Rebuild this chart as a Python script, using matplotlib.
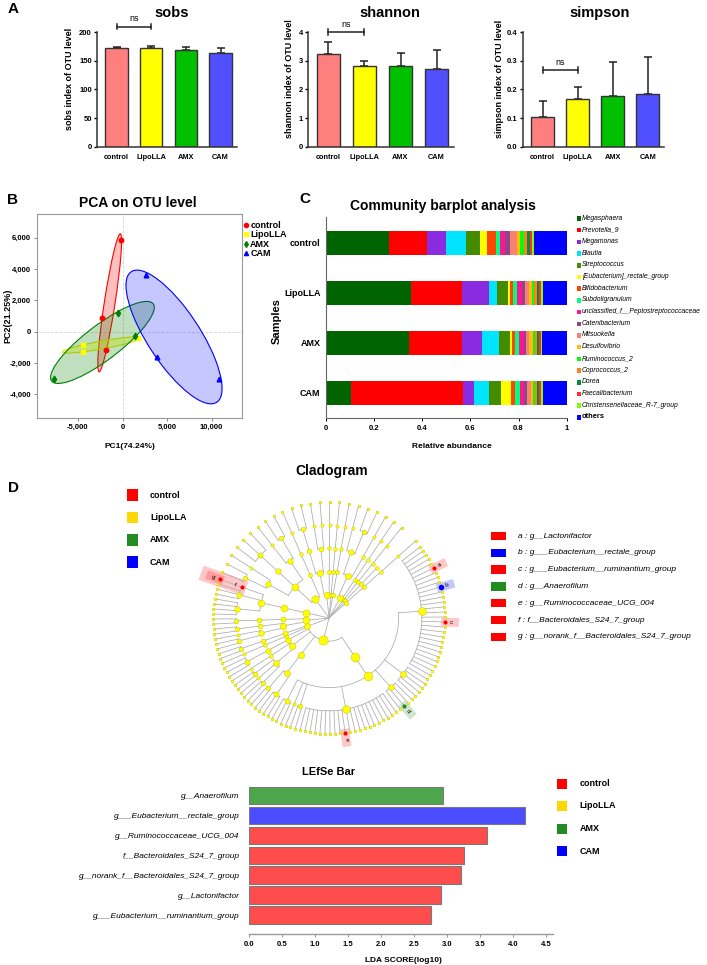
import numpy as np
import matplotlib.pyplot as plt
from matplotlib.patches import Ellipse, Rectangle, Polygon
from matplotlib.lines import Line2D
from matplotlib.colors import to_rgba

plt.rcParams['font.family'] = ['Liberation Sans', 'DejaVu Sans']

# ---------------- data ----------------
groups = ['control', 'LipoLLA', 'AMX', 'CAM']
bar_colors = ['#FF7F7F', '#FFFF00', '#00C000', '#5050FF']
group_colors = ['#FF0000', '#FFD700', '#228B22', '#0000FF']

sobs_mean = [172, 173, 169, 164]
sobs_sd = [3, 3.5, 6, 9]
shannon_mean = [3.23, 2.83, 2.81, 2.73]
shannon_sd = [0.43, 0.15, 0.47, 0.66]
simpson_mean = [0.105, 0.167, 0.177, 0.183]
simpson_sd = [0.055, 0.04, 0.12, 0.13]

# PCA scores (PC1, PC2)
control_pc1 = [-200, -2270, -1850]
control_pc2 = [5840, 850, -1165]
lipo_pc1 = [-4440, -4440, 1780]
lipo_pc2 = [-850, -1270, -430]
amx_pc1 = [-505, 1400, -7660]
amx_pc2 = [1210, -255, -3010]
cam_pc1 = [2610, 3910, 10840]
cam_pc2 = [3610, -1590, -3030]

genus_names = ['Megasphaera', 'Prevotella_9', 'Megamonas', 'Blautia', 'Streptococcus',
               '[Eubacterium]_rectale_group', 'Bifidobacterium', 'Subdoligranulum',
               'unclassified_f__Peptostreptococcaceae', 'Catenibacterium', 'Mitsuokella',
               'Desulfovibrio', 'Ruminococcus_2', 'Coprococcus_2', 'Dorea', 'Faecalibacterium',
               'Christensenellaceae_R-7_group', 'others']
genus_colors = ['#006400', '#FF0000', '#8A2BE2', '#00E5FF', '#458B00', '#FFFF00', '#FF4500',
                '#00FF7F', '#FF1493', '#8B4789', '#FA8072', '#FFB90F', '#00FF00', '#FF7F24',
                '#008B45', '#FF3030', '#7FFF00', '#0000FF']
abund_control = [0.262, 0.159, 0.080, 0.080, 0.058, 0.032, 0.035, 0.017, 0.021, 0.021,
                 0.028, 0.014, 0.017, 0.011, 0.014, 0.008, 0.008, 0.136]
abund_lipo = [0.353, 0.211, 0.115, 0.033, 0.043, 0.008, 0.015, 0.017, 0.018, 0.014,
              0.018, 0.012, 0.008, 0.010, 0.008, 0.010, 0.010, 0.097]
abund_amx = [0.346, 0.219, 0.083, 0.068, 0.046, 0.012, 0.011, 0.017, 0.018, 0.011,
             0.011, 0.019, 0.008, 0.008, 0.008, 0.006, 0.006, 0.102]
abund_cam = [0.104, 0.467, 0.046, 0.062, 0.047, 0.042, 0.018, 0.021, 0.018, 0.012,
             0.014, 0.011, 0.008, 0.006, 0.008, 0.010, 0.007, 0.100]

# cladogram: a list is a clade, an int n stands for n plain tips, a letter is a
# marked tip, a tuple (letter, list) is a marked clade
clade_tree = [
    [[[[5, 'a', 3, 'b', 6, 'c', 11], [5], [2, 'd', 1], [11, 'e', 9], [2], [1], [3]]],
     [[[3], [2]]],
     [[[2], [1], [2]], [[1]]],
     [[[3]]]],
    [[[[1]]], [[[2]]]],
    [[[[2], [1]], [[2]]], [[[2]]]],
    [[[[4], [3], ('f', ['g'])]]],
    [[[[2], [1]], [[3]], [[1], [2]]], [[[1]]]],
    [[[[2]], [[1], [1]]], [[[1]]]],
    [[[[1]]]],
    [[[[1]]]],
    [[[[1], [2]], [[1]]], [[[1]]]],
    [[[[1]]]],
    [[1]],
    [[[[1]]]],
]
marker_letters = ['a', 'b', 'c', 'd', 'e', 'f', 'g']
marker_taxa = ['g__Lactonifactor', 'g___Eubacterium__rectale_group',
               'g___Eubacterium__ruminantium_group', 'g__Anaerofilum',
               'g__Ruminococcaceae_UCG_004', 'f__Bacteroidales_S24_7_group',
               'g__norank_f__Bacteroidales_S24_7_group']
marker_group = ['control', 'CAM', 'control', 'AMX', 'control', 'control', 'control']

lefse_taxa = ['g__Anaerofilum', 'g___Eubacterium__rectale_group', 'g__Ruminococcaceae_UCG_004',
              'f__Bacteroidales_S24_7_group', 'g__norank_f__Bacteroidales_S24_7_group',
              'g__Lactonifactor', 'g___Eubacterium__ruminantium_group']
lefse_lda = [2.94, 4.18, 3.61, 3.25, 3.21, 2.91, 2.75]
lefse_group = ['AMX', 'CAM', 'control', 'control', 'control', 'control', 'control']
lefse_colors = {'control': '#FF4C4C', 'AMX': '#4CA64C', 'CAM': '#4C4CFF'}

# ---------------- figure ----------------
W, H = 707, 965
fig = plt.figure(figsize=(W / 100, H / 100), dpi=100)


def box(l, t, r, b):
    return [l / W, 1 - b / H, (r - l) / W, (b - t) / H]


def ftext(x, y, s, **kw):
    kw.setdefault('ha', 'center')
    kw.setdefault('va', 'center')
    return fig.text(x / W, 1 - y / H, s, **kw)


def fsquare(x, y, w, h, color):
    fig.add_artist(Rectangle((x / W, 1 - (y + h / 2) / H), w / W, h / H, color=color,
                             lw=0, transform=fig.transFigure))


# ---- A: alpha diversity ----
def alpha_panel(c0, pitch, mean, sd, ymax, yticks, ylabels, title, ns_at, ylab_x, title_x):
    ax = fig.add_axes(box(c0 - 0.55 * pitch, 32.3, c0 + 3.47 * pitch, 146.7))
    x = np.arange(4)
    ax.errorbar(x, mean, yerr=[np.zeros(4), sd], fmt='none', ecolor='#222222',
                elinewidth=1.1, capsize=2.8, capthick=1.1, zorder=1)
    ax.bar(x, mean, width=0.65, color=bar_colors, edgecolor='#333333', linewidth=1.0, zorder=2)
    ax.set_xlim(-0.55, 3.47)
    ax.set_ylim(0, ymax)
    ax.set_yticks(yticks)
    ax.set_yticklabels(ylabels, fontsize=5.5, fontweight='bold')
    ax.set_xticks(x)
    ax.set_xticklabels(groups, fontsize=5.3, fontweight='bold')
    ax.tick_params(axis='x', length=0, pad=5)
    ax.tick_params(axis='y', length=2.5, width=1, pad=1.5)
    for s in ['top', 'right']:
        ax.spines[s].set_visible(False)
    for s in ['left', 'bottom']:
        ax.spines[s].set_linewidth(1.1)
        ax.spines[s].set_color('#333333')
    d = 0.025 * ymax
    ax.plot([0, 1], [ns_at, ns_at], color='#222222', lw=1.1, clip_on=False)
    for xx in (0, 1):
        ax.plot([xx, xx], [ns_at - d, ns_at + d], color='#222222', lw=1.1, clip_on=False)
    ax.text(0.5, ns_at + 0.03 * ymax, 'ns', ha='center', va='bottom', fontsize=6.5)
    ftext(title_x, 13, title, fontsize=10.5, fontweight='bold')
    ftext(ylab_x, 79, title + ' index of OTU level', rotation=90, fontsize=6.5, fontweight='bold')


alpha_panel(116.5, 34.7, sobs_mean, sobs_sd, 200, [0, 50, 100, 150, 200],
            ['0', '50', '100', '150', '200'], 'sobs', 210, 70, 172)
alpha_panel(328.3, 36.1, shannon_mean, shannon_sd, 4, [0, 1, 2, 3, 4],
            ['0', '1', '2', '3', '4'], 'shannon', 4.0, 290, 390)
alpha_panel(542.5, 35.1, simpson_mean, simpson_sd, 0.4, [0, 0.1, 0.2, 0.3, 0.4],
            ['0.0', '0.1', '0.2', '0.3', '0.4'], 'simpson', 0.268, 500, 600)
ftext(13, 9, 'A', fontsize=11, fontweight='bold')

# ---- B: PCA ----
ax = fig.add_axes(box(36.7, 214, 241.7, 418.3))
ax.set_xlim(-9640, 13390)
ax.set_ylim(-5520, 7500)
ax.axhline(0, ls='--', color='#D5D5D5', lw=0.6, zorder=0)
ax.axvline(0, ls='--', color='#D5D5D5', lw=0.6, zorder=0)
pca_sets = [(control_pc1, control_pc2, '#FF0000', 'o', 3.2),
            (lipo_pc1, lipo_pc2, '#FFFF00', 's', 3.0),
            (amx_pc1, amx_pc2, '#008000', 'd', 3.4),
            (cam_pc1, cam_pc2, '#0000FF', '^', 3.4)]
face_alpha = [0.25, 0.35, 0.25, 0.22]
edge_cols = ['#FF0000', '#E6E600', '#008000', '#0000FF']
for (px, py, col, mk, ms), fa, ec in zip(pca_sets, face_alpha, edge_cols):
    cov = np.cov(px, py)
    vals, vecs = np.linalg.eigh(cov)
    order = vals.argsort()[::-1]
    vals, vecs = vals[order], vecs[:, order]
    ang = np.degrees(np.arctan2(vecs[1, 0], vecs[0, 0]))
    k = 1.22
    ax.add_patch(Ellipse((np.mean(px), np.mean(py)), 2 * k * np.sqrt(vals[0]),
                         2 * k * np.sqrt(vals[1]), angle=ang,
                         facecolor=to_rgba(col, fa), edgecolor=ec, lw=0.8))
for px, py, col, mk, ms in pca_sets:
    ax.plot(px, py, ls='none', marker=mk, color=col, ms=ms, mec=col, zorder=3)
ax.set_xticks([-5000, 0, 5000, 10000])
ax.set_xticklabels(['{:,}'.format(v) for v in [-5000, 0, 5000, 10000]],
                   fontsize=5.5, fontweight='bold')
ax.set_yticks([-4000, -2000, 0, 2000, 4000, 6000])
ax.set_yticklabels(['{:,}'.format(v) for v in [-4000, -2000, 0, 2000, 4000, 6000]],
                   fontsize=5.5, fontweight='bold')
ax.tick_params(length=2.5, width=0.7, color='#888888', pad=1.5)
for s in ax.spines.values():
    s.set_color('#999999')
    s.set_linewidth(0.8)
handles = [Line2D([], [], ls='none', marker=mk, color=col, ms=3) for _, _, col, mk, _ in pca_sets]
ax.legend(handles, groups, loc='upper left', bbox_to_anchor=(1.0, 0.97), frameon=False,
          prop=dict(size=6.5, weight='bold'), handletextpad=0.05, labelspacing=0.05,
          borderaxespad=0, handlelength=0.8, borderpad=0.1)
ftext(138, 203, 'PCA on OTU level', fontsize=10, fontweight='bold')
ftext(130, 447, 'PC1(74.24%)', fontsize=6, fontweight='bold')
ftext(8, 316, 'PC2(21.25%)', rotation=90, fontsize=6.5, fontweight='bold')
ftext(13, 200, 'B', fontsize=11, fontweight='bold')

# ---- C: community barplot ----
ax = fig.add_axes(box(326, 217, 566.7, 418.3))
abund = np.array([abund_control, abund_lipo, abund_amx, abund_cam])
abund = abund / abund.sum(axis=1, keepdims=True)
ypos = np.arange(4)
left = np.zeros(4)
for j, col in enumerate(genus_colors):
    ax.barh(ypos, abund[:, j], left=left, height=0.49, color=col, lw=0)
    left += abund[:, j]
ax.set_xlim(0, 1)
ax.set_ylim(3.51, -0.517)
ax.set_yticks(ypos)
ax.set_yticklabels(groups, fontsize=6.5, fontweight='bold')
ax.set_xticks([0, 0.2, 0.4, 0.6, 0.8, 1])
ax.set_xticklabels(['0', '0.2', '0.4', '0.6', '0.8', '1'], fontsize=5.5, fontweight='bold')
ax.tick_params(axis='y', length=0, pad=4)
ax.tick_params(axis='x', length=2.5, width=0.7, pad=2)
for s in ['top', 'right']:
    ax.spines[s].set_visible(False)
for s in ['left', 'bottom']:
    ax.spines[s].set_color('#666666')
    ax.spines[s].set_linewidth(0.8)
ftext(443, 206, 'Community barplot analysis', fontsize=10, fontweight='bold')
ftext(452, 446, 'Relative abundance', fontsize=6, fontweight='bold')
ftext(277, 321, 'Samples', rotation=90, fontsize=8, fontweight='bold')
ftext(305, 199, 'C', fontsize=11, fontweight='bold')
for i, (name, col) in enumerate(zip(genus_names, genus_colors)):
    yy = 218 + 11.7 * i
    fsquare(576.5, yy + 0.5, 4.5, 4.5, col)
    if name == 'others':
        ftext(582, yy, name, ha='left', fontsize=5.4, fontweight='bold')
    else:
        ftext(582, yy, name, ha='left', fontsize=4.9, style='italic')

# ---- D: cladogram ----
ftext(13.5, 488, 'D', fontsize=11, fontweight='bold')
ftext(331.5, 471, 'Cladogram', fontsize=10, fontweight='bold')
ax = fig.add_axes(box(159, 478, 499, 758))
ax.set_xlim(-170 / 116, 170 / 116)
ax.set_ylim(-140 / 116, 140 / 116)
ax.axis('off')


def count_tips(item):
    if isinstance(item, int):
        return item
    if isinstance(item, str):
        return 1
    if isinstance(item, tuple):
        return count_tips(item[1])
    return sum(count_tips(k) for k in item)


n_dense = sum(count_tips(p) for p in clade_tree[:4])
n_sparse = sum(count_tips(p) for p in clade_tree[4:])
dense_step = 2.5
sparse_step = (360 - dense_step * n_dense) / n_sparse
steps = np.array([dense_step] * n_dense + [sparse_step] * n_sparse)
gaps = (steps[:-1] + steps[1:]) / 2
tip_angles = iter(38.0 - np.concatenate([[0], np.cumsum(gaps)]))


def grow(item, depth):
    if isinstance(item, int):
        return [dict(depth=depth, angle=next(tip_angles), mark=None, kids=[], n=1)
                for _ in range(item)]
    if isinstance(item, str):
        return [dict(depth=depth, angle=next(tip_angles), mark=item, kids=[], n=1)]
    mark = None
    if isinstance(item, tuple):
        mark, item = item
    kids = [n for sub in item for n in grow(sub, depth + 1)]
    ang = (kids[0]['angle'] + kids[-1]['angle']) / 2
    return [dict(depth=depth, angle=ang, mark=mark, kids=kids, n=sum(k['n'] for k in kids))]


root = grow(clade_tree, 0)[0]
radius = [0, 0.2, 0.4, 0.6, 0.8, 1.0]
mark_color = {m: group_colors[groups.index(g)] for m, g in zip(marker_letters, marker_group)}
dots = []


def draw(node):
    r0 = radius[node['depth']]
    kids = node['kids']
    if node['depth'] > 0:
        dots.append(node)
    if not kids:
        return
    if node['depth'] > 0 and len(kids) > 1:
        t = np.radians(np.linspace(kids[-1]['angle'], kids[0]['angle'], 80))
        ax.plot(r0 * np.cos(t), r0 * np.sin(t), color='#ABABAB', lw=0.55, zorder=1)
    for kid in kids:
        r1 = radius[kid['depth']]
        t = np.radians(kid['angle'])
        ax.plot([r0 * np.cos(t), r1 * np.cos(t)], [r0 * np.sin(t), r1 * np.sin(t)],
                color='#ABABAB', lw=0.55, zorder=1)
        draw(kid)


draw(root)
for nd in dots:
    t = np.radians(nd['angle'])
    r = radius[nd['depth']]
    x, y = r * np.cos(t), r * np.sin(t)
    if nd['mark']:
        col = mark_color[nd['mark']]
        u = np.array([np.cos(t), np.sin(t)])
        v = np.array([-np.sin(t), np.cos(t)])
        if nd['kids']:
            r1, r2, hw = r - 0.04, 1.17, 0.065
        else:
            r1, r2, hw = r - 0.035, r + 0.12, 0.038
        corners = [r1 * u + hw * v, r2 * u + hw * v, r2 * u - hw * v, r1 * u - hw * v]
        ax.add_patch(Polygon(corners, closed=True, facecolor=to_rgba(col, 0.22), lw=0, zorder=0.5))
        ax.scatter([x], [y], s=16 if nd['mark'] == 'b' else 9, color=col, zorder=3, lw=0)
        rot = nd['angle'] if abs(((nd['angle'] + 180) % 360) - 180) < 90 else nd['angle'] - 180
        rl = r + 0.055
        ax.text(rl * np.cos(t), rl * np.sin(t), nd['mark'], fontsize=4.5, ha='center',
                va='center', rotation=rot, zorder=4)
    else:
        size = 4 + 5.5 * np.log2(nd['n']) + (5 - nd['depth']) * 1.5
        ax.scatter([x], [y], s=size, color='#FFFF00', edgecolor='#BDBD00', lw=0.3, zorder=2)

for i, g in enumerate(groups):
    yy = 495 + 22.4 * i
    fsquare(127.2, yy, 10.4, 11.7, group_colors[i])
    ftext(150, yy, g, ha='left', fontsize=6.5, fontweight='bold')
for i, (m, tx, g) in enumerate(zip(marker_letters, marker_taxa, marker_group)):
    yy = 536 + 16.8 * i
    fsquare(490.8, yy, 15.2, 8.3, group_colors[groups.index(g)])
    ftext(518, yy, m + ' : ' + tx, ha='left', fontsize=6, style='italic')

# ---- LEfSe bar ----
ftext(328.4, 772, 'LEfSe Bar', fontsize=8, fontweight='bold')
ax = fig.add_axes(box(249.4, 783.5, 552.5, 934))
yl = np.arange(len(lefse_taxa))
ax.barh(yl, lefse_lda, height=0.88, color=[lefse_colors[g] for g in lefse_group],
        edgecolor='#7A7A7A', lw=0.8)
ax.set_xlim(0, 4.6)
ax.set_ylim(6.95, -0.602)
ax.set_yticks(yl)
ax.set_yticklabels(lefse_taxa, fontsize=6, style='italic')
ax.set_xticks(np.arange(0, 4.51, 0.5))
ax.set_xticklabels(['%.1f' % v for v in np.arange(0, 4.51, 0.5)], fontsize=5.5, fontweight='bold')
ax.tick_params(axis='y', length=0, pad=7)
ax.tick_params(axis='x', length=2.5, width=0.8, color='#999999', pad=2.5)
for s in ['top', 'right', 'left']:
    ax.spines[s].set_visible(False)
ax.spines['bottom'].set_color('#999999')
ax.spines['bottom'].set_linewidth(1.0)
ftext(403.7, 961, 'LDA SCORE(log10)', fontsize=6, fontweight='bold')
for i, g in enumerate(groups):
    yy = 783.5 + 22.5 * i
    fsquare(557, yy, 10.4, 10, group_colors[i])
    ftext(579.6, yy, g, ha='left', fontsize=6.5, fontweight='bold')

fig.savefig('out.png', dpi=100)
